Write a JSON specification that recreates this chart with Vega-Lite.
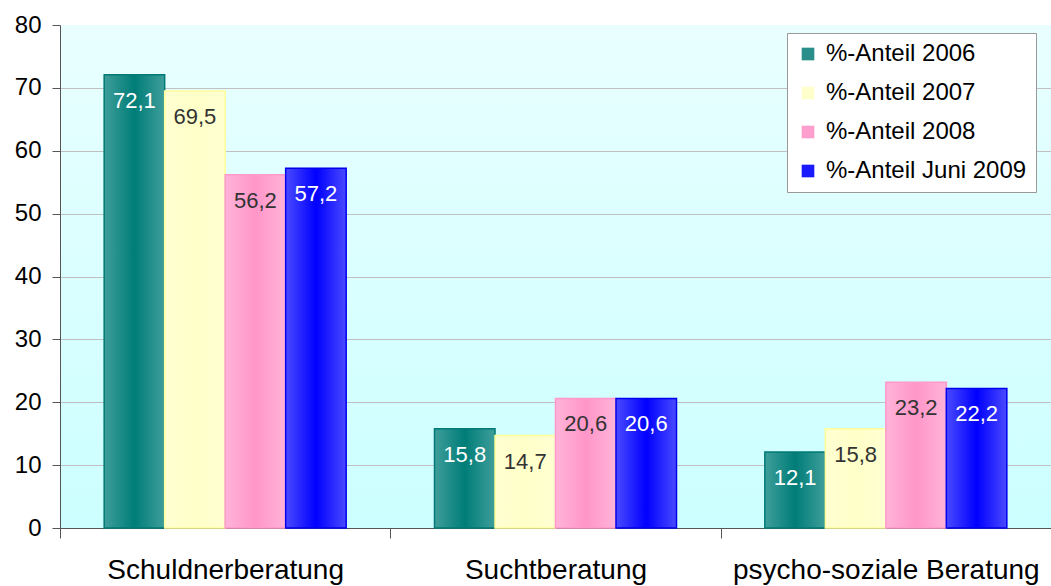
{
  "$schema": "https://vega.github.io/schema/vega-lite/v6.json",
  "width": 991,
  "height": 503,
  "autosize": {"type": "none"},
  "padding": {"left": 60, "top": 25, "right": 0, "bottom": 58},
  "background": "white",
  "config": {
    "locale": {"number": {"decimal": ",", "thousands": ".", "grouping": [3], "currency": ["", " €"]}},
    "font": "Liberation Sans",
    "view": {
      "stroke": null,
      "fill": {"gradient": "linear", "x1": 0, "y1": 0, "x2": 0, "y2": 1,
        "stops": [{"offset": 0, "color": "#e9ffff"}, {"offset": 1, "color": "#ccffff"}]}
    }
  },
  "data": {"values": [
    {"kategorie": "Schuldnerberatung", "series": "%-Anteil 2006", "wert": 72.1},
    {"kategorie": "Schuldnerberatung", "series": "%-Anteil 2007", "wert": 69.5},
    {"kategorie": "Schuldnerberatung", "series": "%-Anteil 2008", "wert": 56.2},
    {"kategorie": "Schuldnerberatung", "series": "%-Anteil Juni 2009", "wert": 57.2},
    {"kategorie": "Suchtberatung", "series": "%-Anteil 2006", "wert": 15.8},
    {"kategorie": "Suchtberatung", "series": "%-Anteil 2007", "wert": 14.7},
    {"kategorie": "Suchtberatung", "series": "%-Anteil 2008", "wert": 20.6},
    {"kategorie": "Suchtberatung", "series": "%-Anteil Juni 2009", "wert": 20.6},
    {"kategorie": "psycho-soziale Beratung", "series": "%-Anteil 2006", "wert": 12.1},
    {"kategorie": "psycho-soziale Beratung", "series": "%-Anteil 2007", "wert": 15.8},
    {"kategorie": "psycho-soziale Beratung", "series": "%-Anteil 2008", "wert": 23.2},
    {"kategorie": "psycho-soziale Beratung", "series": "%-Anteil Juni 2009", "wert": 22.2}
  ]},
  "encoding": {
    "x": {
      "field": "kategorie", "type": "nominal", "sort": null,
      "scale": {"paddingInner": 0, "paddingOuter": 0},
      "axis": {
        "title": null, "labelAngle": 0, "labelFontSize": 28, "labelColor": "#000",
        "labelPadding": 18, "labelLimit": 800, "tickSize": 10, "tickBand": "extent",
        "domainColor": "#555", "tickColor": "#555", "grid": false
      }
    },
    "xOffset": {
      "field": "series", "type": "nominal",
      "scale": {"domain": ["%-Anteil 2006", "%-Anteil 2007", "%-Anteil 2008", "%-Anteil Juni 2009"],
        "paddingInner": 0, "paddingOuter": 0.73}
    },
    "y": {
      "field": "wert", "type": "quantitative",
      "scale": {"domain": [0, 80], "nice": false},
      "axis": {
        "title": null, "values": [0, 10, 20, 30, 40, 50, 60, 70, 80],
        "labelFontSize": 24, "labelColor": "#000", "labelPadding": 11, "tickSize": 8,
        "domainColor": "#555", "tickColor": "#555", "grid": true,
        "gridColor": {"condition": {"test": "datum.value === 80", "value": "transparent"}, "value": "#c0c0c0"}
      }
    }
  },
  "layer": [
    {
      "mark": {"type": "bar"},
      "encoding": {
        "color": {
          "field": "series", "type": "nominal",
          "scale": {
            "domain": ["%-Anteil 2006", "%-Anteil 2007", "%-Anteil 2008", "%-Anteil Juni 2009"],
            "range": ["#2a8f8b", "#ffffcc", "#ff9fd0", "#1a1aff"]
          },
          "legend": {
            "title": null, "orient": "none", "legendX": 727, "legendY": 8,
            "fillColor": "white", "strokeColor": "#999", "padding": 9,
            "labelFontSize": 24, "labelColor": "#000", "labelLimit": 400,
            "symbolType": "square", "symbolSize": 160, "symbolStrokeWidth": 0,
            "rowPadding": 15, "labelOffset": 6
          }
        }
      }
    },
    {
      "mark": {"type": "bar", "strokeWidth": 1.5},
      "encoding": {
        "fill": {
          "condition": [
            {"test": "datum.series === '%-Anteil 2006'", "value": {"gradient": "linear", "x1": 0, "y1": 0, "x2": 1, "y2": 0,
              "stops": [{"offset": 0, "color": "#3f9e9a"}, {"offset": 0.5, "color": "#007d78"}, {"offset": 1, "color": "#3f9e9a"}]}},
            {"test": "datum.series === '%-Anteil 2007'", "value": {"gradient": "linear", "x1": 0, "y1": 0, "x2": 1, "y2": 0,
              "stops": [{"offset": 0, "color": "#ffffd2"}, {"offset": 0.5, "color": "#ffffc8"}, {"offset": 1, "color": "#ffffd2"}]}},
            {"test": "datum.series === '%-Anteil 2008'", "value": {"gradient": "linear", "x1": 0, "y1": 0, "x2": 1, "y2": 0,
              "stops": [{"offset": 0, "color": "#ffb3d9"}, {"offset": 0.5, "color": "#ff96c8"}, {"offset": 1, "color": "#ffb3d9"}]}}
          ],
          "value": {"gradient": "linear", "x1": 0, "y1": 0, "x2": 1, "y2": 0,
            "stops": [{"offset": 0, "color": "#4a4aff"}, {"offset": 0.5, "color": "#0000ff"}, {"offset": 1, "color": "#4a4aff"}]}
        },
        "stroke": {
          "condition": [
            {"test": "datum.series === '%-Anteil 2006'", "value": "#007a76"},
            {"test": "datum.series === '%-Anteil 2007'", "value": "#ffff99"},
            {"test": "datum.series === '%-Anteil 2008'", "value": "#ff99cc"}
          ],
          "value": "#0000ee"
        }
      }
    },
    {
      "mark": {"type": "text", "baseline": "middle", "align": "center", "dy": 26, "fontSize": 22},
      "encoding": {
        "text": {"field": "wert", "type": "quantitative", "format": ".1f"},
        "fill": {
          "condition": {"test": "datum.series === '%-Anteil 2006' || datum.series === '%-Anteil Juni 2009'", "value": "#ffffff"},
          "value": "#333333"
        }
      }
    }
  ]
}
